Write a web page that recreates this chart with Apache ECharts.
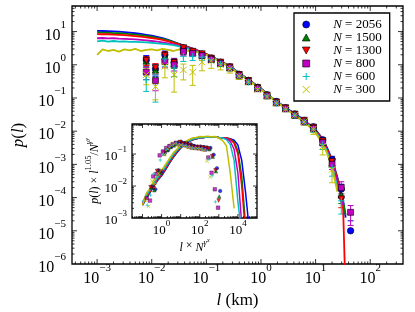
<!DOCTYPE html>
<html><head><meta charset="utf-8">
<script src="https://cdn.jsdelivr.net/npm/echarts@6/dist/echarts.min.js"></script>
<style>html,body{margin:0;padding:0;background:#fff}#c{width:415px;height:312px}</style>
</head><body><div id="c"></div><script>
const FONT = 'Liberation Serif';
const NAMES = ['2056', '1500', '1300', '800', '600', '300'];
const COLORS = ['#0000ff', '#008000', '#ff0000', '#bf00bf', '#00bfbf', '#bfbf00'];
const SYMBOLS = ['circle', 'path://M5,0L10,9L0,9Z', 'path://M0,0L10,0L5,9Z', 'path://M0,0L10,0L10,10L0,10Z', 'path://M5,0L5,10M0,5L10,5', 'path://M0,0L10,10M10,0L0,10'];

// ---- main panel: smooth curves p(l) ----
const lineX = [0.001,0.00126,0.00158,0.002,0.00251,0.00316,0.00398,0.00501,0.00631,0.00794,0.01,0.0126,0.0158,0.02,0.0251,0.0316,0.0398,0.0501,0.0631,0.0794,0.1,0.126,0.158,0.2,0.251,0.316,0.398,0.501,0.631,0.794,1,1.26,1.58,2,2.51,3.16,3.98,5.01,6.31,7.94,10,12.6,15.8,20,25.1,31.6,35.5];
const line2056 = [10.5,10.4,10.3,10.1,9.9,9.6,9.3,8.9,8.5,8.0,7.5,6.9,6.3,5.6,4.9,4.3,3.8,3.3,2.85,2.45,2.1,1.75,1.45,1.2,0.95,0.75,0.57,0.43,0.33,0.25,0.19,0.14,0.1,0.077,0.058,0.045,0.035,0.027,0.021,0.015,0.011,0.0068,0.0035,0.0014,0.0004,0.00009,0.000025];
const line1500 = [9.4,9.3,9.2,9.0,8.9,8.7,8.4,8.1,7.8,7.4,7.0,6.5,6.0,5.4,4.8,4.2,3.7,3.25,2.8,2.42,2.08,1.73,1.44,1.19,0.94,0.74,0.57,0.43,0.33,0.25,0.19,0.14,0.1,0.076,0.058,0.045,0.035,0.027,0.02,0.015,0.0105,0.0065,0.0033,0.0013,0.00037,0.00008,0.00003];
const line1300 = [8.4,8.3,8.3,8.1,8.0,7.8,7.6,7.3,7.0,6.7,6.4,6.0,5.6,5.1,4.6,4.1,3.6,3.2,2.8,2.4,2.05,1.72,1.43,1.18,0.94,0.74,0.56,0.43,0.33,0.25,0.19,0.14,0.1,0.076,0.057,0.044,0.034,0.026,0.02,0.0148,0.0104,0.0064,0.0032,0.0013,0.00035,0.00008,0.0000001];
const line800 = [6.3,6.4,6.2,6.3,6.1,6.0,5.9,5.8,5.6,5.4,5.2,5.0,4.7,4.4,4.1,3.8,3.4,3.05,2.7,2.35,2.0,1.7,1.42,1.17,0.93,0.73,0.56,0.43,0.32,0.25,0.19,0.14,0.1,0.075,0.057,0.044,0.034,0.026,0.02,0.0145,0.01,0.006,0.003,0.0011,0.0003,0.00006,null];
const line600 = [5.1,5.3,5.0,5.2,5.0,5.1,4.9,4.9,4.8,4.7,4.6,4.4,4.3,4.1,3.9,3.6,3.3,2.95,2.6,2.3,1.95,1.68,1.4,1.16,0.92,0.72,0.55,0.42,0.32,0.245,0.185,0.138,0.1,0.074,0.056,0.043,0.033,0.025,0.019,0.014,0.0095,0.0056,0.0027,0.0009,0.0002,null,null];
const line300 = [2.0,2.9,2.6,2.8,2.5,2.9,2.7,3.0,2.6,2.8,2.9,2.7,3.0,2.8,2.6,2.9,2.7,2.6,2.5,2.3,2.0,1.65,1.38,1.12,0.9,0.7,0.54,0.41,0.31,0.24,0.18,0.135,0.1,0.073,0.055,0.042,0.032,0.024,0.018,0.013,0.0088,0.005,0.0024,0.0008,0.00015,null,null];

// ---- main panel: binned points and relative error bars ----
const binX = [0.00794,0.0117,0.0174,0.0257,0.038,0.0562,0.0832,0.123,0.182,0.269,0.398,0.589,0.871,1.29,1.91,2.82,4.17,6.17,9.12,13.5,20.0,29.5,43.7];
const pts2056 = [1.4,0.75,2.0,1.2,3.0,2.5,2.1,1.6,1.2,0.87,0.52,0.34,0.21,0.125,0.078,0.051,0.033,0.021,0.0135,0.0055,0.0014,0.00018,0.00001];
const pts1500 = [1.3,0.7,1.8,1.1,2.8,2.4,2.0,1.5,1.15,0.83,0.5,0.32,0.2,0.12,0.074,0.049,0.031,0.02,0.0125,0.0048,0.0011,0.00012,null];
const pts1300 = [1.35,0.8,1.9,1.15,3.2,2.5,2.1,1.55,1.18,0.85,0.5,0.33,0.2,0.12,0.075,0.05,0.032,0.021,0.013,0.005,0.0012,0.00009,null];
const pts800 = [0.6,0.33,1.25,1.0,2.5,2.2,1.9,1.45,1.1,0.8,0.47,0.31,0.19,0.115,0.071,0.047,0.03,0.019,0.012,0.0045,0.001,0.0002,0.000036];
const pts600 = [0.35,0.5,1.5,0.8,1.8,1.8,1.7,1.4,1.05,0.78,0.46,0.3,0.19,0.115,0.07,0.046,0.03,0.019,0.0115,0.004,0.0008,0.00008,null];
const pts300 = [0.5,0.22,0.9,0.5,0.7,0.6,1.2,1.3,1.0,0.75,0.45,0.3,0.18,0.11,0.07,0.046,0.03,0.019,0.0115,0.0035,0.0007,null,null];
const err2056 = [0.35,0.4,0.3,0.3,0.2,0.15,0.12,0.1,0.08,0.07,0.06,0.05,0.05,0.05,0.05,0.06,0.07,0.08,0.1,0.15,0.25,0.4,1.0];
const err1500 = [0.35,0.4,0.3,0.3,0.2,0.15,0.12,0.1,0.08,0.07,0.06,0.05,0.05,0.05,0.05,0.06,0.07,0.08,0.1,0.15,0.25,0.45,null];
const err1300 = [0.3,0.35,0.3,0.3,0.2,0.15,0.12,0.1,0.08,0.07,0.06,0.05,0.05,0.05,0.05,0.06,0.07,0.08,0.1,0.15,0.25,0.45,null];
const err800 = [0.4,0.5,0.35,0.35,0.25,0.2,0.15,0.12,0.1,0.08,0.07,0.06,0.06,0.06,0.06,0.07,0.08,0.1,0.12,0.2,0.3,0.5,0.6];
const err600 = [0.55,0.85,0.4,0.45,0.3,0.25,0.2,0.15,0.12,0.1,0.08,0.07,0.07,0.07,0.08,0.1,0.12,0.15,0.2,0.3,0.45,0.6,null];
const err300 = [0.5,0.6,0.55,0.7,0.5,0.6,0.45,0.4,0.3,0.25,0.2,0.15,0.12,0.12,0.12,0.14,0.16,0.2,0.3,0.45,0.6,null,null];

// ---- inset: rescaled curves ----
const insetLineX = [0.1,0.158,0.251,0.398,0.631,1,1.58,2.51,3.98,6.31,10,15.8,25.1,39.8,63.1,100,158,251,398,631,1000,1585,2512,3981,6310,10000,15849,25119,39811];
const insetLine2056 = [0.0025,0.004,0.0063,0.01,0.0151,0.0209,0.0316,0.0501,0.0759,0.11,0.151,0.2,0.24,0.275,0.302,0.316,0.331,0.339,0.339,0.339,0.331,0.324,0.316,0.302,0.269,0.191,0.0631,0.0063,0.0004];
const insetLine1500 = [0.0026,0.0042,0.0066,0.0105,0.0158,0.0219,0.0331,0.0525,0.0794,0.115,0.158,0.204,0.245,0.275,0.302,0.316,0.331,0.339,0.339,0.339,0.331,0.324,0.316,0.295,0.24,0.126,0.02,0.00063,null];
const insetLine1300 = [0.0028,0.0044,0.0069,0.011,0.0166,0.0229,0.0347,0.055,0.0832,0.12,0.162,0.209,0.251,0.282,0.302,0.316,0.331,0.339,0.339,0.339,0.331,0.324,0.316,0.288,0.219,0.1,0.01,0.00032,null];
const insetLine800 = [0.003,0.0047,0.0074,0.0117,0.0178,0.0245,0.0372,0.0589,0.0891,0.126,0.17,0.214,0.251,0.282,0.309,0.324,0.331,0.339,0.339,0.339,0.331,0.324,0.302,0.251,0.141,0.0251,0.00063,null,null];
const insetLine600 = [0.0032,0.005,0.0079,0.0126,0.0191,0.0263,0.0398,0.0631,0.0933,0.132,0.174,0.219,0.257,0.288,0.309,0.324,0.331,0.339,0.339,0.339,0.331,0.316,0.282,0.2,0.0631,0.0032,0.00032,null,null];
const insetLine300 = [0.0025,0.006,0.0083,0.0151,0.0209,0.0302,0.0468,0.0708,0.107,0.141,0.191,0.234,0.275,0.316,0.331,0.355,0.347,0.363,0.347,0.355,0.316,0.263,0.178,0.0251,0.002,null,null,null,null];

// ---- inset: rescaled points ----
const insetX2056 = [0.316,0.468,0.692,1.02,1.51,2.24,3.31,4.9,7.24,10.7,15.8,23.4,34.7,51.3,75.9,112,166,245,363,537,794,1175,1738];
const insetY2056 = [0.0097,0.0079,0.031,0.029,0.11,0.135,0.17,0.2,0.22,0.24,0.22,0.21,0.2,0.18,0.17,0.17,0.165,0.16,0.155,0.095,0.036,0.007,0.0006];
const insetX1500 = [0.282,0.417,0.617,0.912,1.35,2.0,2.95,4.37,6.46,9.55,14.1,20.9,30.9,45.7,67.6,100,148,219,324,479,708,1047];
const insetY1500 = [0.0091,0.0074,0.029,0.026,0.102,0.132,0.166,0.186,0.214,0.234,0.214,0.204,0.195,0.174,0.162,0.162,0.155,0.151,0.141,0.083,0.029,0.0047];
const insetX1300 = [0.263,0.389,0.575,0.851,1.26,1.86,2.75,4.07,6.03,8.91,13.2,19.5,28.8,42.7,63.1,93.3,138,204,302,447,661,977];
const insetY1300 = [0.0093,0.0085,0.030,0.028,0.115,0.135,0.174,0.19,0.219,0.24,0.214,0.214,0.195,0.174,0.166,0.166,0.162,0.158,0.148,0.087,0.031,0.0035];
const insetX800 = [0.166,0.245,0.363,0.537,0.794,1.17,1.74,2.57,3.8,5.62,8.32,12.3,18.2,26.9,39.8,58.9,87.1,129,191,282,417,617,912];
const insetY800 = [0.0042,0.0035,0.02,0.024,0.091,0.12,0.155,0.178,0.204,0.224,0.2,0.2,0.186,0.17,0.158,0.155,0.151,0.145,0.138,0.078,0.026,0.0079,0.0021];
const insetX600 = [0.178,0.263,0.389,0.575,0.851,1.26,1.86,2.75,4.07,6.03,8.91,13.2,19.5,28.8,42.7,63.1,93.3,138,204,302,447,661];
const insetY600 = [0.0025,0.0052,0.024,0.019,0.065,0.098,0.141,0.174,0.195,0.219,0.195,0.191,0.186,0.17,0.155,0.151,0.151,0.145,0.132,0.069,0.021,0.0032];
const insetX300 = [0.141,0.209,0.309,0.457,0.676,1.0,1.48,2.19,3.24,4.79,7.08,10.5,15.5,22.9,33.9,50.1,74.1,110,162,240,355];
const insetY300 = [0.0035,0.0023,0.0145,0.012,0.025,0.032,0.098,0.145,0.186,0.209,0.191,0.191,0.174,0.162,0.155,0.151,0.151,0.145,0.132,0.06,0.019];

// axis ranges
const MAIN_X = [3.47e-4, 398];
const MAIN_Y = [1e-6, 58.9];
const INSET_X = [0.0282, 1e5];
const INSET_Y = [1e-3, 0.87];

const LINES = [line2056, line1500, line1300, line800, line600, line300];
const PTS = [pts2056, pts1500, pts1300, pts800, pts600, pts300];
const ERRS = [err2056, err1500, err1300, err800, err600, err300];
const ILINES = [insetLine2056, insetLine1500, insetLine1300, insetLine800, insetLine600, insetLine300];
const IX = [insetX2056, insetX1500, insetX1300, insetX800, insetX600, insetX300];
const IY = [insetY2056, insetY1500, insetY1300, insetY800, insetY600, insetY300];

function pairs(xs, ys) {
  const out = [];
  xs.forEach((x, i) => { if (ys[i] != null) out.push([x, ys[i]]); });
  return out;
}
function isOpen(i) { return i >= 4; }
function markerStyle(i, bw) {
  return isOpen(i)
    ? { color: COLORS[i], borderColor: COLORS[i], borderWidth: 1, opacity: 1 }
    : { color: COLORS[i], borderColor: '#000', borderWidth: bw, opacity: 1 };
}
function powLabel(v, onlyEven) {
  const e = Math.log10(v);
  const r = Math.round(e);
  if (Math.abs(e - r) > 1e-6) return '';
  if (onlyEven && r % 2 !== 0) return '';
  return '{b|10}{s|' + (r < 0 ? '\u2212' + (-r) : r) + '}';
}

function tickSeries(gi, xr, yr, majLen, minLen, z) {
  const xRef = Math.sqrt(xr[0] * xr[1]), yRef = Math.sqrt(yr[0] * yr[1]);
  return {
    type: 'custom', xAxisIndex: gi, yAxisIndex: gi, z: z, silent: true, clip: false,
    data: [[xRef, yRef]],
    renderItem: function (params, api) {
      const cs = params.coordSys;
      const L = cs.x, R = cs.x + cs.width, T = cs.y, B = cs.y + cs.height;
      const ch = [];
      const seg = (x1, y1, x2, y2) => ch.push({ type: 'line', shape: { x1, y1, x2, y2 }, style: { stroke: '#000', lineWidth: 0.8 } });
      for (let k = Math.floor(Math.log10(xr[0])); k <= Math.ceil(Math.log10(xr[1])); k++) {
        for (let m = 1; m <= 9; m++) {
          const v = m * Math.pow(10, k);
          if (v < xr[0] * 1.0001 || v > xr[1] * 0.9999) continue;
          const p = api.coord([v, yRef])[0];
          const len = m === 1 ? majLen : minLen;
          seg(p, B, p, B - len); seg(p, T, p, T + len);
        }
      }
      for (let k = Math.floor(Math.log10(yr[0])); k <= Math.ceil(Math.log10(yr[1])); k++) {
        for (let m = 1; m <= 9; m++) {
          const v = m * Math.pow(10, k);
          if (v < yr[0] * 1.0001 || v > yr[1] * 0.9999) continue;
          const p = api.coord([xRef, v])[1];
          const len = m === 1 ? majLen : minLen;
          seg(L, p, L + len, p); seg(R, p, R - len, p);
        }
      }
      return { type: 'group', children: ch };
    }
  };
}

function errSeries(xs, ys, rel, color) {
  const data = [];
  xs.forEach((x, i) => {
    if (ys[i] == null || rel[i] == null) return;
    const e = ys[i] * rel[i];
    data.push([x, Math.max(ys[i] - e, 0), ys[i] + e]);
  });
  return {
    type: 'custom', xAxisIndex: 0, yAxisIndex: 0, z: 2, silent: true, clip: true,
    data: data, encode: { x: 0, y: [1, 2] },
    renderItem: function (params, api) {
      const x = api.value(0), lo = api.value(1), hi = api.value(2);
      const ph = api.coord([x, hi]);
      const cap = 3;
      const st = { stroke: color, lineWidth: 1 };
      const ch = [{ type: 'line', shape: { x1: ph[0] - cap, y1: ph[1], x2: ph[0] + cap, y2: ph[1] }, style: st }];
      if (lo > 0) {
        const pl = api.coord([x, lo]);
        ch.push({ type: 'line', shape: { x1: pl[0], y1: pl[1], x2: ph[0], y2: ph[1] }, style: st });
        ch.push({ type: 'line', shape: { x1: pl[0] - cap, y1: pl[1], x2: pl[0] + cap, y2: pl[1] }, style: st });
      }
      return { type: 'group', children: ch };
    }
  };
}

const series = [];
for (let i = 0; i < 6; i++) {
  series.push({
    type: 'line', name: 'curve' + NAMES[i], xAxisIndex: 0, yAxisIndex: 0, z: 2, silent: true,
    data: pairs(lineX, LINES[i]), symbol: 'none', showSymbol: false, clip: true,
    lineStyle: { color: COLORS[i], width: 1.8 }
  });
  series.push(errSeries(binX, PTS[i], ERRS[i], COLORS[i]));
  series.push({
    type: 'scatter', name: NAMES[i], xAxisIndex: 0, yAxisIndex: 0, z: 2, silent: true,
    data: pairs(binX, PTS[i]), symbol: SYMBOLS[i], symbolSize: i === 3 ? 6 : 6.5, clip: true,
    itemStyle: markerStyle(i, 0.6)
  });
}
for (let i = 0; i < 6; i++) {
  series.push({
    type: 'line', name: 'icurve' + NAMES[i], xAxisIndex: 1, yAxisIndex: 1, z: 6, silent: true,
    data: pairs(insetLineX, ILINES[i]), symbol: 'none', showSymbol: false, clip: true,
    lineStyle: { color: COLORS[i], width: 1.5 }
  });
  series.push({
    type: 'scatter', name: 'ipts' + NAMES[i], xAxisIndex: 1, yAxisIndex: 1, z: 6, silent: true,
    data: pairs(IX[i], IY[i]), symbol: SYMBOLS[i], symbolSize: 3.6, clip: true,
    itemStyle: isOpen(i) ? { color: COLORS[i], borderColor: COLORS[i], borderWidth: 0.8 } : { color: COLORS[i], borderColor: '#000', borderWidth: 0.4 }
  });
}
series.push(tickSeries(0, MAIN_X, MAIN_Y, 5, 2.5, 3));
series.push(tickSeries(1, INSET_X, INSET_Y, 4, 2, 7));

const mainRich = {
  b: { fontFamily: FONT, fontSize: 16, lineHeight: 24, verticalAlign: 'bottom', color: '#000' },
  s: { fontFamily: FONT, fontSize: 11, lineHeight: 12, verticalAlign: 'top', color: '#000' }
};
const insetRich = {
  b: { fontFamily: FONT, fontSize: 13, lineHeight: 18, verticalAlign: 'bottom', color: '#000' },
  s: { fontFamily: FONT, fontSize: 9, lineHeight: 9, verticalAlign: 'top', color: '#000' }
};
const nameRichMain = { i: { fontFamily: FONT, fontStyle: 'italic', fontSize: 17, color: '#000' } };
const nameRichInset = {
  i: { fontFamily: FONT, fontStyle: 'italic', fontSize: 12, lineHeight: 16, verticalAlign: 'bottom', color: '#000' },
  n: { fontFamily: FONT, fontSize: 12, lineHeight: 16, verticalAlign: 'bottom', color: '#000' },
  s: { fontFamily: FONT, fontSize: 8.5, lineHeight: 9, verticalAlign: 'top', color: '#000' },
  g: { fontFamily: FONT, fontStyle: 'italic', fontSize: 8.5, lineHeight: 9, verticalAlign: 'top', color: '#000' },
  t: { fontFamily: FONT, fontStyle: 'italic', fontSize: 6, lineHeight: 13, verticalAlign: 'top', color: '#000' }
};

function logAxis(gi, range, rich, onlyEven, splitNumber, margin, extra) {
  return Object.assign({
    type: 'log', gridIndex: gi, min: range[0], max: range[1], logBase: 10, splitNumber: splitNumber,
    axisLine: { show: false }, axisTick: { show: false }, splitLine: { show: false }, minorTick: { show: false },
    axisLabel: { interval: 0, margin: margin, formatter: v => powLabel(v, onlyEven), rich: rich }
  }, extra);
}

const option = {
  animation: false,
  backgroundColor: '#fff',
  grid: [
    { left: 72, top: 6, width: 331, height: 258, show: true, borderColor: '#000', borderWidth: 1.3, backgroundColor: 'transparent', z: 0, containLabel: false, outerBoundsMode: 'none' },
    { left: 132, top: 124, width: 125, height: 94, show: true, borderColor: '#000', borderWidth: 1.3, backgroundColor: '#fff', z: 5, containLabel: false, outerBoundsMode: 'none' }
  ],
  xAxis: [
    logAxis(0, MAIN_X, mainRich, false, 6, -1, {
      name: '{i|l} (km)', nameLocation: 'middle', nameGap: 15,
      nameTextStyle: { fontFamily: FONT, fontSize: 17, color: '#000', rich: nameRichMain }
    }),
    logAxis(1, INSET_X, insetRich, true, 7, 1, {
      z: 6,
      name: '{i|l} \u00d7 {i|N}{g|\u03b3}{t|x}', nameLocation: 'middle', nameGap: 18,
      nameTextStyle: { fontFamily: FONT, fontSize: 12, color: '#000', rich: nameRichInset }
    })
  ],
  yAxis: [
    logAxis(0, MAIN_Y, mainRich, false, 8, 6, {
      name: '{i|p}({i|l})', nameLocation: 'middle', nameGap: 29, nameRotate: 90,
      nameTextStyle: { fontFamily: FONT, fontSize: 17, color: '#000', rich: nameRichMain }
    }),
    logAxis(1, INSET_Y, insetRich, false, 3, 5, {
      z: 6,
      name: '{i|p}{n|(}{i|l}{n|) \u00d7 }{i|l}{s|1.05}{n|/}{i|N}{g|\u03b3}{t|y}', nameLocation: 'middle', nameGap: 31, nameRotate: 90,
      nameTextStyle: { fontFamily: FONT, fontSize: 12, color: '#000', rich: nameRichInset }
    })
  ],
  legend: {
    left: 294, top: 13, orient: 'vertical',
    padding: [5, 8, 5, 8], itemWidth: 22, itemHeight: 7, itemGap: 0,
    backgroundColor: '#fff', borderColor: '#000', borderWidth: 1.3, borderRadius: 0,
    selectedMode: false, z: 8, symbolKeepAspect: true,
    data: NAMES.map((n, i) => ({ name: n, icon: SYMBOLS[i], itemStyle: markerStyle(i, 0.6) })),
    formatter: n => '{i|N} = ' + n,
    textStyle: {
      fontFamily: FONT, fontSize: 13, color: '#000', lineHeight: 11.5,
      rich: { i: { fontFamily: FONT, fontStyle: 'italic', fontSize: 13, lineHeight: 11.5, color: '#000', padding: [0, 0, 0, 11] } }
    }
  },
  series: series
};

const chart = echarts.init(document.getElementById('c'), null, { renderer: 'canvas' });
chart.setOption(option);
</script></body></html>
